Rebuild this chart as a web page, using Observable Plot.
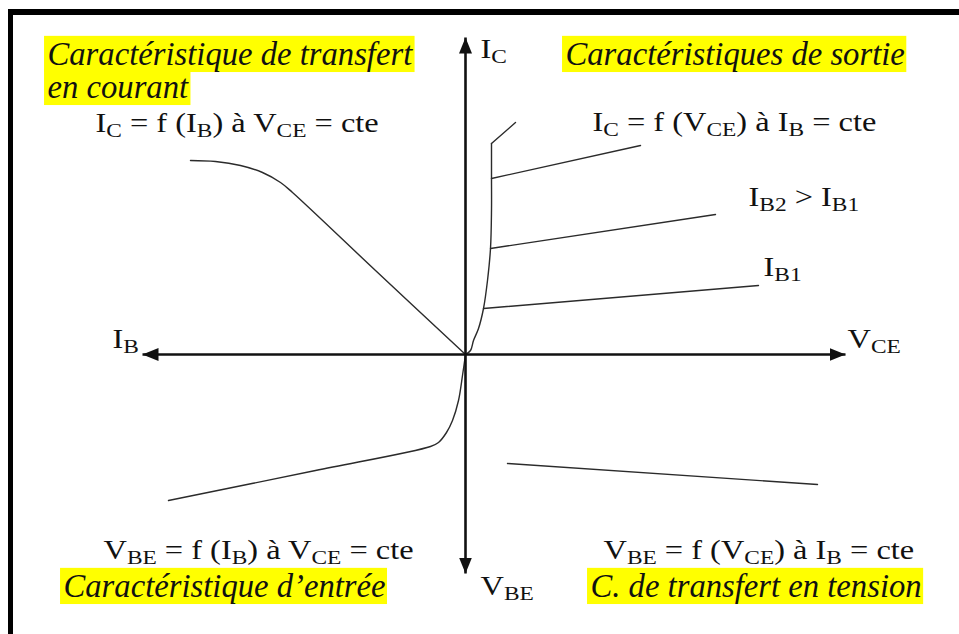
<!DOCTYPE html>
<html><head><meta charset="utf-8">
<script src="https://cdn.jsdelivr.net/npm/d3@7"></script>
<script src="https://cdn.jsdelivr.net/npm/@observablehq/plot@0.6"></script>
<style>
  html,body{margin:0;padding:0;background:#fff;overflow:hidden}
  #frame{position:absolute;left:8px;top:9px;right:0;bottom:0;border-top:6px solid #000;border-left:5px solid #000;pointer-events:none}
  #chart{position:absolute;left:0;top:0}
</style>
</head><body>
<div id="chart"></div>
<div id="frame"></div>
<script>
// ---- data (diagram units, origin at the axes crossing, y upward) ----
const axisTips = [[0, 317], [380, 0], [-323, 0], [0, -219]];          // IC up, VCE right, IB left, VBE down
const transferCurrent = [[-275, 194], [-250, 193], [-225, 189], [-203, 182], [-185, 172], [-173, 162], [-90, 84], [0, 0]];
const outputKnee = [[0, 0], [5, 4], [8, 14], [13, 26], [18, 46], [22, 74], [25, 106], [26, 144], [26, 176], [26, 211]];
const outputKink = [[26, 211], [50, 232]];
const outputIB1 = [[18, 46], [293, 69]];
const outputIB2 = [[25, 106], [250, 140]];
const outputIB3 = [[26, 176], [175, 209]];
const inputCurve = [[0, 0], [-3, -21], [-7, -46], [-13, -66], [-19, -78], [-27, -88], [-35, -92], [-150, -116], [-297, -146]];
const voltageTransfer = [[42, -109], [352, -130]];

const titleTexts = ["Caractéristique de transfert", "en courant", "Caractéristiques de sortie", "Caractéristique d’entrée", "C. de transfert en tension"];
const titleX = [-418, -418, 100, -402, 125];
const titleY = [290, 257, 290, -242, -242];

const formulaTexts = ["I_C = f (I_B) à V_CE = cte", "I_C = f (V_CE) à I_B = cte", "I_B2 > I_B1", "I_B1", "V_CE", "I_B", "I_C",
  "V_BE = f (I_B) à V_CE = cte", "V_BE = f (V_CE) à I_B = cte", "V_BE"];
const formulaX = [-370, 127, 283, 298, 382, -353, 15, -362, 138, 15];
const formulaY = [223, 224, 149, 79, 7, 7, 297, -204, -204, -240];

// ---- styles ----
const W = 959, H = 634;
const INK = "#111", CURVE = "#2b2b2b";
const FORMULA_SIZE = 27, SUB_SIZE = 19.5, SUB_SHIFT = 5, FORMULA_STRETCH = 1.2;
const TITLE_SIZE = 33, TITLE_STRETCH = 0.99;
const SERIF = "Liberation Serif";

const titles = titleTexts.map((t, i) => ({t, x: titleX[i], y: titleY[i]}));
const formulas = formulaTexts.map((t, i) => ({t, x: formulaX[i], y: formulaY[i]}));

function filledArrow(color) {
  const ns = "http://www.w3.org/2000/svg";
  const m = document.createElementNS(ns, "marker");
  m.setAttribute("viewBox", "-16 -6.5 16 13");
  m.setAttribute("markerUnits", "userSpaceOnUse");
  m.setAttribute("markerWidth", "16");
  m.setAttribute("markerHeight", "13");
  m.setAttribute("refX", "0");
  m.setAttribute("refY", "0");
  m.setAttribute("orient", "auto");
  const p = document.createElementNS(ns, "path");
  p.setAttribute("d", "M-16,-6.5L0,0L-16,6.5Z");
  p.setAttribute("fill", color);
  p.setAttribute("stroke", "none");
  m.appendChild(p);
  return m;
}

const curveLine = (data, curve) => Plot.line(data, {x: d => d[0], y: d => d[1], stroke: CURVE, strokeWidth: 1.4, curve});

const chart = Plot.plot({
  width: W, height: H, margin: 0,
  x: {domain: [-465, 494], axis: null},
  y: {domain: [-280, 354], axis: null},
  style: {background: "transparent", overflow: "visible"},
  marks: [
    curveLine(transferCurrent, "catmull-rom"),
    curveLine(outputKnee, "catmull-rom"),
    curveLine(outputKink, "linear"),
    curveLine(outputIB1, "linear"),
    curveLine(outputIB2, "linear"),
    curveLine(outputIB3, "linear"),
    curveLine(inputCurve, "catmull-rom"),
    curveLine(voltageTransfer, "linear"),
    Plot.link(axisTips, {x1: 0, y1: 0, x2: d => d[0], y2: d => d[1], stroke: INK, strokeWidth: 2.6, markerEnd: filledArrow}),
    Plot.text(titles, {x: "x", y: "y", text: "t", textAnchor: "start", lineAnchor: "bottom", fontSize: TITLE_SIZE,
      fontStyle: "italic", fontFamily: SERIF, fill: INK}),
    Plot.text(formulas, {x: "x", y: "y", text: "t", textAnchor: "start", lineAnchor: "bottom", fontSize: FORMULA_SIZE,
      fontFamily: SERIF, fill: INK})
  ]
});
document.getElementById("chart").appendChild(chart);

const ns = "http://www.w3.org/2000/svg";
function stretch(el, k) {
  let tr = el.getAttribute("transform");
  if (!tr) {
    const x = el.getAttribute("x") || 0, y = el.getAttribute("y") || 0;
    tr = `translate(${x},${y})`;
    el.removeAttribute("x"); el.removeAttribute("y");
  }
  el.setAttribute("transform", `${tr} scale(${k},1)`);
}
function subscriptify(el) {
  const parts = el.textContent.split(/_([A-Z0-9]+)/);
  el.textContent = "";
  let shifted = false;
  parts.forEach((p, i) => {
    if (!p) return;
    const t = document.createElementNS(ns, "tspan");
    t.textContent = p;
    if (i % 2 === 1) { t.setAttribute("font-size", SUB_SIZE); t.setAttribute("dy", SUB_SHIFT); shifted = true; }
    else if (shifted) { t.setAttribute("dy", -SUB_SHIFT); shifted = false; }
    el.appendChild(t);
  });
}
const svg = chart.tagName.toLowerCase() === "svg" ? chart : chart.querySelector("svg");
const textGroups = svg.querySelectorAll('g[aria-label="text"]');
const tg = textGroups[0], fg = textGroups[1];
fg.querySelectorAll("text").forEach(el => { subscriptify(el); stretch(el, FORMULA_STRETCH); });
const hl = document.createElementNS(ns, "g");
hl.setAttribute("aria-label", "highlights");
tg.parentNode.insertBefore(hl, tg);
tg.querySelectorAll("text").forEach(el => {
  stretch(el, TITLE_STRETCH);
  const bb = el.getBBox();
  const r = document.createElementNS(ns, "rect");
  r.setAttribute("x", bb.x - 3); r.setAttribute("y", bb.y + 1);
  r.setAttribute("width", bb.width + 5); r.setAttribute("height", bb.height);
  r.setAttribute("fill", "#ffff00");
  r.setAttribute("transform", el.getAttribute("transform"));
  hl.appendChild(r);
});
</script>
</body></html>
